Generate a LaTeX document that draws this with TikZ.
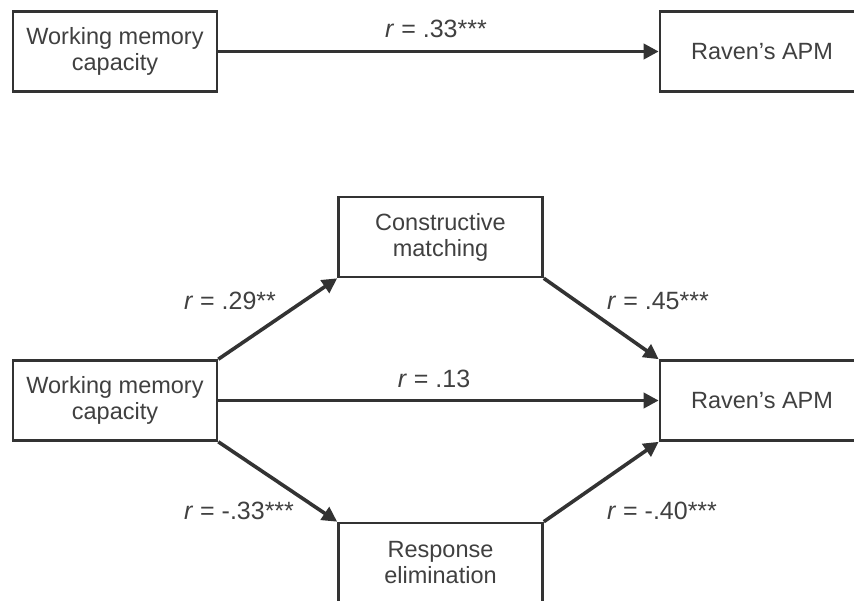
\documentclass[tikz,border=0pt]{standalone}
\usepackage{fontspec}
\setmainfont{Liberation Sans}
\usepackage{tikz}
\usetikzlibrary{arrows.meta,positioning}

\definecolor{boxline}{HTML}{333333}
\definecolor{labeltext}{HTML}{404040}

\tikzset{
  varbox/.style={draw=boxline, line width=2.6pt, fill=white, minimum width=204pt,
    minimum height=80pt, align=center, text=labeltext, inner sep=0pt,
    font=\fontsize{23.5}{26}\selectfont},
  path/.style={draw=boxline, line width=3.6pt, -{Triangle[length=15pt,width=15pt]}},
  coef/.style={text=labeltext, inner sep=0pt, font=\fontsize{25}{28}\selectfont}
}

\begin{document}
\begin{tikzpicture}[x=1pt,y=-1pt]
  \useasboundingbox (0,0) rectangle (854,601);
  \clip (0,0) rectangle (854,601);

  % total effect
  \node[varbox] (wmc1) at (115,51.5) {Working memory\\capacity};
  \node[varbox] (apm1) at (762,51.5) {Raven’s APM};
  \draw[path] (wmc1.east) -- (apm1.west);
  \node[coef] (r1) at (436,29) {\textit{r} = .33***};

  % mediated model
  \node[varbox] (wmc2) at (115,400.5) {Working memory\\capacity};
  \node[varbox] (apm2) at (762,400.5) {Raven’s APM};
  \node[varbox] (cm) at (440.5,237) {Constructive\\matching};
  \node[varbox] (re) at (440.5,563) {Response\\elimination};

  \draw[path] (wmc2.north east) -- (cm.south west);
  \draw[path] (cm.south east) -- (apm2.north west);
  \draw[path] (wmc2.east) -- (apm2.west);
  \draw[path] (wmc2.south east) -- (re.north west);
  \draw[path] (re.north east) -- (apm2.south west);

  \node[coef] (r2) at (230,301) {\textit{r} = .29**};
  \node[coef] (r3) at (658,301) {\textit{r} = .45***};
  \node[coef] (r4) at (434,378.5) {\textit{r} = .13};
  \node[coef] (r5) at (239,511) {\textit{r} = -.33***};
  \node[coef] (r6) at (662,511) {\textit{r} = -.40***};
\end{tikzpicture}
\end{document}
